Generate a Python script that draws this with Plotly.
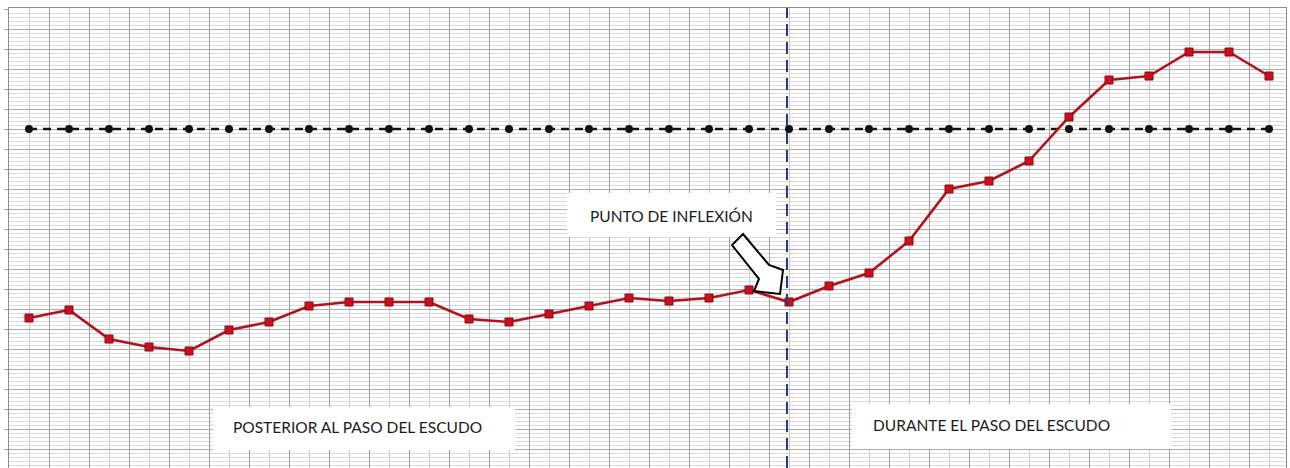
import plotly.graph_objects as go

# ---- data ----
periods = list(range(1, 33))
measured = [10.55, 10.95, 9.5, 9.1, 8.9, 9.95, 10.35, 11.15, 11.35, 11.35, 11.35, 10.5,
            10.35, 10.75, 11.15, 11.55, 11.4, 11.55, 11.95, 11.35, 12.15, 12.8, 14.4, 17.0,
            17.4, 18.4, 20.6, 22.45, 22.65, 23.85, 23.85, 22.65]
reference_level = [20] * 32
inflexion_period = 20
label_inflexion = "PUNTO DE INFLEXIÓN"
label_after = "POSTERIOR AL PASO DEL ESCUDO"
label_during = "DURANTE EL PASO DEL ESCUDO"

W, H = 1290, 468
ML, MR, MT, MB = 9, 4, 8, 0
PW, PH = W - ML - MR, H - MT - MB


def px(x):
    return (x - ML) / PW


def py(y):
    return (H - MB - y) / PH


fig = go.Figure()
fig.add_trace(go.Scatter(
    x=periods, y=reference_level, mode="lines+markers",
    line=dict(color="#111111", width=2.6, dash="8px,6px"),
    marker=dict(symbol="circle", size=8, color="#111111"),
    showlegend=False, hoverinfo="skip"))
fig.add_trace(go.Scatter(
    x=periods, y=measured, mode="lines+markers",
    line=dict(color="#B3121D", width=2.6),
    marker=dict(symbol="square", size=8, color="#C8101E",
                line=dict(color="#8A0A12", width=1)),
    showlegend=False))

shapes = []
# vertical dashed separator
shapes.append(dict(type="line", xref="x", yref="paper", x0=inflexion_period - 0.05,
                   x1=inflexion_period - 0.05, y0=0, y1=1,
                   line=dict(color="#1F3C80", width=2, dash="12px,6px"), layer="above"))


def box(x0, y0, x1, y1):
    return dict(type="rect", xref="paper", yref="paper", x0=px(x0), x1=px(x1),
                y0=py(y1), y1=py(y0), fillcolor="white", line=dict(width=0), layer="above")


shapes.append(box(567, 193, 776, 237))
shapes.append(box(213, 407, 515, 450))
shapes.append(box(852, 404, 1171, 449))

arrow_pts = [(743, 234), (769, 265), (783, 270), (780, 294), (754, 291), (759, 279), (732, 245)]
path = "M " + " L ".join(f"{px(a):.5f},{py(b):.5f}" for a, b in arrow_pts) + " Z"
shapes.append(dict(type="path", xref="paper", yref="paper", path=path,
                   fillcolor="white", line=dict(color="black", width=2), layer="above"))

annotations = []
for text, x0, yc in [(label_inflexion, 588, 216), (label_after, 231, 427), (label_during, 871, 425)]:
    annotations.append(dict(text=text, xref="paper", yref="paper", x=px(x0), y=py(yc),
                            xanchor="left", yanchor="middle", showarrow=False,
                            font=dict(family="Lato", size=15.5, color="#1a1a1a")))

fig.update_layout(
    width=W, height=H, margin=dict(l=ML, r=MR, t=MT, b=MB),
    plot_bgcolor="white", paper_bgcolor="white",
    shapes=shapes, annotations=annotations, showlegend=False,
    xaxis=dict(range=[0.5, 32.425], tick0=0.5, dtick=1, showticklabels=False,
               showgrid=True, gridcolor="#9C9C9C", gridwidth=1, zeroline=False,
               showline=True, linecolor="#8A8A8A", mirror=True,
               minor=dict(dtick=0.5, tick0=0, showgrid=True, gridcolor="#C4C4C4", gridwidth=1)),
    yaxis=dict(range=[3.05, 26.05], tick0=0, dtick=1, showticklabels=False,
               showgrid=True, gridcolor="#ABABAB", gridwidth=1, zeroline=False,
               showline=True, linecolor="#8A8A8A", mirror=True,
               ticks="outside", ticklen=4, tickcolor="#A8A8A8",
               minor=dict(dtick=0.2, showgrid=True, gridcolor="#DADADA", gridwidth=1)),
)
fig.write_html("out.html", config={"displayModeBar": False},
               post_script="document.body.style.margin='0';document.body.style.overflow='hidden';")
